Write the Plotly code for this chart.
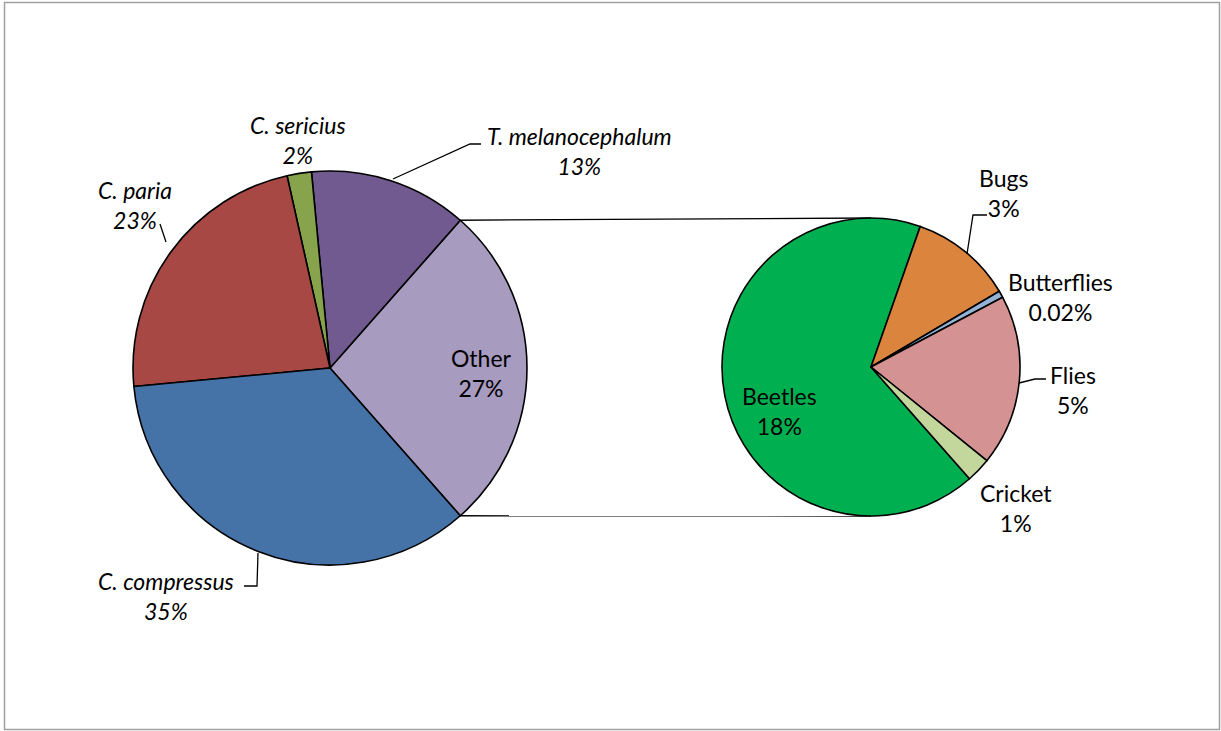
import math
import plotly.graph_objects as go

# ---- data ----
main_labels = ["Other", "T. melanocephalum", "C. sericius", "C. paria", "C. compressus"]
main_values = [27, 13, 2, 23, 35]
main_colors = ["#A89BC0", "#715A8F", "#87A34B", "#A84845", "#4572A7"]

sub_labels = ["Beetles", "Bugs", "Butterflies", "Flies", "Cricket"]
sub_values = [18, 3, 0.2, 5.0, 0.72]
sub_text = ["18%", "3%", "0.02%", "5%", "1%"]
sub_colors = ["#00B050", "#DB843D", "#95B3D7", "#D49392", "#C3D69B"]

W, H = 1221, 731
# pie geometry (pixels)
cx1, cy1, r1 = 330, 368, 197
cx2, cy2, r2 = 871, 367, 149


def px(x):
    return x / W


def py(y):
    return 1 - y / H


half_other = 180 * main_values[0] / sum(main_values)

fig = go.Figure()
fig.add_trace(go.Pie(
    labels=main_labels, values=main_values, sort=False,
    direction="counterclockwise", rotation=90 - half_other,
    marker=dict(colors=main_colors, line=dict(color="black", width=1.6)),
    textinfo="none", hoverinfo="label+percent", showlegend=False,
    domain=dict(x=[px(cx1 - r1), px(cx1 + r1)], y=[py(cy1 + r1), py(cy1 - r1)]),
))
fig.add_trace(go.Pie(
    labels=sub_labels, values=sub_values, sort=False,
    direction="clockwise", rotation=90 + half_other,
    marker=dict(colors=sub_colors, line=dict(color="black", width=1.6)),
    textinfo="none", hoverinfo="label", showlegend=False,
    domain=dict(x=[px(cx2 - r2), px(cx2 + r2)], y=[py(cy2 + r2), py(cy2 - r2)]),
))

shapes = []
# connector lines between the pies
a = math.radians(half_other)
for sgn in (1, -1):
    x0 = cx1 + r1 * math.cos(a)
    y0 = cy1 - sgn * r1 * math.sin(a)
    x1 = cx2
    y1 = cy2 - sgn * r2
    shapes.append(dict(type="line", xref="paper", yref="paper",
                       x0=px(x0), y0=py(y0), x1=px(x1), y1=py(y1),
                       line=dict(color="black", width=1.3), layer="below"))

# leader lines
leaders = [
    [(393, 179), (470, 144), (481, 144)],      # T. melanocephalum
    [(160, 224), (166, 242)],                  # C. paria
    [(258, 553), (257, 586), (244, 586)],      # C. compressus
    [(967, 254), (973, 215), (987, 215)],      # Bugs
    [(1019, 383), (1035, 379), (1046, 379)],   # Flies
]
for pts in leaders:
    path = "M " + " L ".join(f"{px(x)},{py(y)}" for x, y in pts)
    shapes.append(dict(type="path", xref="paper", yref="paper", path=path,
                       line=dict(color="black", width=1.3)))

# chart border
shapes.append(dict(type="rect", xref="paper", yref="paper",
                   x0=px(4.5), y0=py(729.5), x1=px(1219.5), y1=py(2.5),
                   line=dict(color="#A0A0A0", width=1.5)))

FONT = "Lato"
FS = 23
main_pct = [f"{v}%" for v in main_values]
label_pos_main = {
    "Other": (481, 373, False),
    "T. melanocephalum": (579, 151, True),
    "C. sericius": (298, 140, True),
    "C. paria": (135, 205, True),
    "C. compressus": (166, 596, True),
}
label_pos_sub = {
    "Beetles": (779, 411),
    "Bugs": (1003, 193),
    "Butterflies": (1060, 297),
    "Flies": (1073, 390),
    "Cricket": (1016, 508),
}

annotations = []
for lab, pct in zip(main_labels, main_pct):
    x, y, it = label_pos_main[lab]
    annotations.append(dict(
        x=px(x), y=py(y), xref="paper", yref="paper", showarrow=False,
        xanchor="center", yanchor="middle",
        text=f"{lab}<br>{pct}", align="center",
        font=dict(family=FONT, size=FS, color="black",
                  style="italic" if it else "normal")))
for lab, t in zip(sub_labels, sub_text):
    x, y = label_pos_sub[lab]
    annotations.append(dict(
        x=px(x), y=py(y), xref="paper", yref="paper", showarrow=False,
        xanchor="center", yanchor="middle",
        text=f"{lab}<br>{t}", align="center",
        font=dict(family=FONT, size=FS, color="black")))

fig.update_layout(
    width=W, height=H, margin=dict(l=0, r=0, t=0, b=0),
    paper_bgcolor="white", plot_bgcolor="white",
    shapes=shapes, annotations=annotations,
)
fig.write_html("out.html")
